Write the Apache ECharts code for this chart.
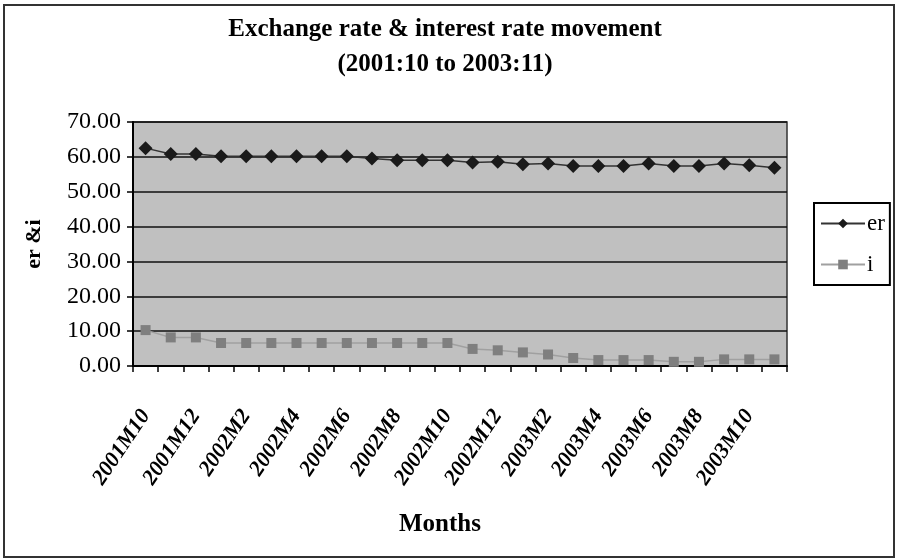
<!DOCTYPE html>
<html>
<head>
<meta charset="utf-8">
<script src="https://cdn.jsdelivr.net/npm/echarts@6/dist/echarts.min.js"></script>
<style>
  html, body { margin: 0; padding: 0; background: #fff; }
  #chart { width: 898px; height: 560px; }
</style>
</head>
<body>
<div id="chart"></div>
<script>
// Monthly observations, 2001M10 .. 2003M11
const months = [
  '2001M10', '2001M11', '2001M12',
  '2002M1', '2002M2', '2002M3', '2002M4', '2002M5', '2002M6',
  '2002M7', '2002M8', '2002M9', '2002M10', '2002M11', '2002M12',
  '2003M1', '2003M2', '2003M3', '2003M4', '2003M5', '2003M6',
  '2003M7', '2003M8', '2003M9', '2003M10', '2003M11'
];

// Exchange rate
const er = [
  62.5, 60.8, 60.8, 60.2, 60.2, 60.2, 60.2, 60.2, 60.2, 59.5,
  59.0, 59.0, 59.0, 58.4, 58.6, 57.9, 58.1, 57.4, 57.4, 57.4,
  58.1, 57.4, 57.4, 58.1, 57.6, 56.9
];

// Interest rate
const ir = [
  10.3, 8.2, 8.2, 6.6, 6.6, 6.6, 6.6, 6.6, 6.6, 6.6,
  6.6, 6.6, 6.6, 4.9, 4.5, 3.9, 3.3, 2.3, 1.7, 1.7,
  1.7, 1.2, 1.2, 1.9, 1.9, 1.9
];

const yTicks = [0, 10, 20, 30, 40, 50, 60, 70];

const serif = '"Liberation Serif", "DejaVu Serif", serif';

const chart = echarts.init(document.getElementById('chart'), null, { renderer: 'canvas' });

chart.setOption({
  animation: false,
  backgroundColor: '#ffffff',
  title: {
    text: 'Exchange rate & interest rate movement\n(2001:10 to 2003:11)',
    left: 440,
    textAlign: 'center',
    top: 7,
    textStyle: {
      fontFamily: serif,
      fontWeight: 'bold',
      fontSize: 25,
      lineHeight: 35,
      color: '#000'
    }
  },
  graphic: [
    {
      type: 'rect',
      shape: { x: 4, y: 5, width: 890, height: 552 },
      style: { fill: 'none', stroke: '#333', lineWidth: 2 },
      silent: true,
      z: -1
    }
  ],
  legend: {
    orient: 'vertical',
    left: 814,
    top: 203,
    width: 76,
    padding: [9, 5, 9, 6],
    itemGap: 18,
    itemWidth: 44,
    itemHeight: 12,
    borderColor: '#000',
    borderWidth: 2,
    backgroundColor: '#fff',
    textStyle: { fontFamily: serif, fontSize: 23, color: '#000', padding: [0, 0, 0, -3] },
    data: ['er', 'i']
  },
  grid: {
    left: 133,
    top: 122,
    right: 111,
    bottom: 194,
    show: true,
    backgroundColor: '#c0c0c0',
    borderColor: '#333',
    borderWidth: 1.5
  },
  xAxis: {
    type: 'category',
    data: months,
    boundaryGap: true,
    name: 'Months',
    nameLocation: 'middle',
    nameGap: 146,
    nameTextStyle: {
      fontFamily: serif,
      fontWeight: 'bold',
      fontSize: 25,
      color: '#000',
      padding: [0, 40, 0, 0]
    },
    axisLine: { show: true, lineStyle: { color: '#000', width: 2 } },
    axisTick: { show: true, interval: 0, length: 6, lineStyle: { color: '#000', width: 1.5 } },
    axisLabel: {
      interval: 1,
      rotate: 56,
      margin: 46,
      fontFamily: serif,
      fontStyle: 'italic',
      fontWeight: 'bold',
      fontSize: 22,
      color: '#000'
    },
    splitLine: { show: false }
  },
  yAxis: {
    type: 'value',
    min: yTicks[0],
    max: yTicks[yTicks.length - 1],
    interval: 10,
    name: 'er &i',
    nameLocation: 'middle',
    nameGap: 88,
    nameRotate: 90,
    nameTextStyle: {
      fontFamily: serif,
      fontWeight: 'bold',
      fontSize: 22,
      color: '#000'
    },
    axisLine: { show: true, lineStyle: { color: '#000', width: 2 } },
    axisTick: { show: true, length: 6, lineStyle: { color: '#000', width: 1.5 } },
    axisLabel: {
      margin: 12,
      fontFamily: serif,
      fontSize: 24,
      color: '#000',
      formatter: v => v.toFixed(2)
    },
    splitLine: { show: true, lineStyle: { color: '#111', width: 1.5 } }
  },
  series: [
    {
      name: 'er',
      type: 'line',
      data: er,
      symbol: 'diamond',
      symbolSize: 14,
      itemStyle: { color: '#1a1a1a' },
      lineStyle: { color: '#333', width: 1.5 },
      z: 3
    },
    {
      name: 'i',
      type: 'line',
      data: ir,
      symbol: 'rect',
      symbolSize: 10,
      itemStyle: { color: '#7f7f7f' },
      lineStyle: { color: '#a0a0a0', width: 1.5 },
      z: 2
    }
  ]
});
</script>
</body>
</html>
